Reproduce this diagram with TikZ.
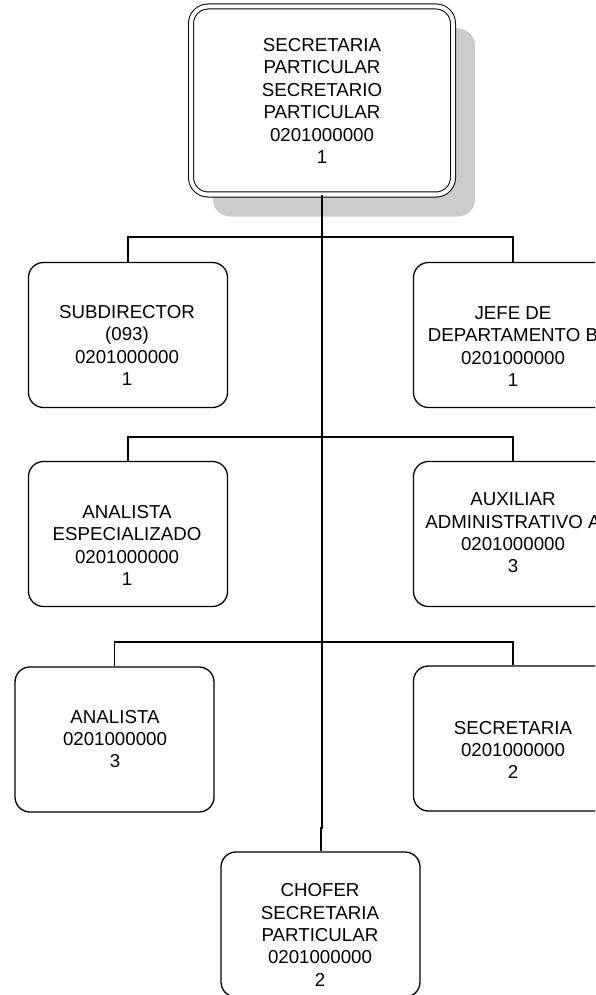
\documentclass[tikz,border=0pt]{standalone}
\usepackage{fontspec}
\setmainfont{Liberation Sans}
\usetikzlibrary{shadows}
\definecolor{shadowgray}{RGB}{204,204,204}
\begin{document}
\begin{tikzpicture}[x=1pt,y=-1pt,
  box/.style={draw, line width=1.3pt, rounded corners=15pt, minimum width=199pt, minimum height=145pt, inner sep=0pt},
  topbox/.style={draw, double, line width=1pt, double distance=4pt, rounded corners=17pt, minimum width=262pt, minimum height=188pt, inner sep=0pt, fill=white,
     drop shadow={shadow xshift=22pt, shadow yshift=-22pt, fill=shadowgray, opacity=1}},
  lbl/.style={align=center, font=\fontsize{18.7}{22.4}\selectfont, inner sep=0pt},
  conn/.style={line width=1.1pt},
  trunk/.style={line width=2pt}]
\clip (0,0) rectangle (595,995);
\fill[white] (0,0) rectangle (595,995);

% boxes
\node[topbox] (top) at (322,100.5) {};
\node[box] (sub) at (128,335) {};
\node[box] (jefe) at (513,335) {};
\node[box] (aesp) at (128,534) {};
\node[box] (aux) at (513,534) {};
\node[box] (anal) at (114.5,739.5) {};
\node[box] (secr) at (513,738.5) {};
\node[box] (chof) at (320.5,924.5) {};

% texts
\node[lbl] (ttop) at (322,101) {SECRETARIA\\PARTICULAR\\SECRETARIO\\PARTICULAR\\0201000000\\1};
\node[lbl] (tsub) at (127,345.5) {SUBDIRECTOR\\(093)\\0201000000\\1};
\node[lbl] (tjefe) at (513,346.5) {JEFE DE\\DEPARTAMENTO B\\0201000000\\1};
\node[lbl] (taesp) at (127,545.5) {ANALISTA\\ESPECIALIZADO\\0201000000\\1};
\node[lbl] (taux) at (513,533) {AUXILIAR\\ADMINISTRATIVO A\\0201000000\\3};
\node[lbl] (tanal) at (115,739) {ANALISTA\\0201000000\\3};
\node[lbl] (tsecr) at (513,750) {SECRETARIA\\0201000000\\2};
\node[lbl] (tchof) at (320,935) {CHOFER\\SECRETARIA\\PARTICULAR\\0201000000\\2};

% connectors
\coordinate (b1) at (513,237);
\coordinate (b2) at (513,437);
\coordinate (b3) at (513,642);
\coordinate (j) at (322,828);
\draw[conn] (sub.north) |- (b1) -- (jefe.north);
\draw[conn] (aesp.north) |- (b2) -- (aux.north);
\draw[conn] (anal.north) |- (b3) -- (secr.north);
\draw[trunk] (top.south) -- (j) -| (chof.north);
\end{tikzpicture}
\end{document}
